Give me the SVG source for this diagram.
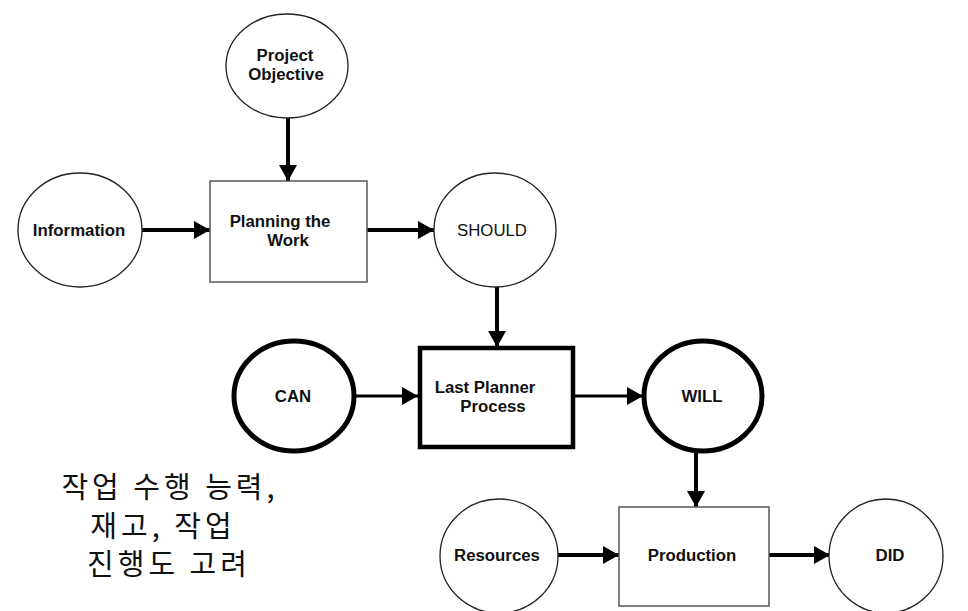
<svg xmlns="http://www.w3.org/2000/svg" width="968" height="611" viewBox="0 0 968 611">
<style>
.bg{fill:#fff}
.thin{fill:#fff;stroke:#222;stroke-width:1.3}
.thick{fill:#fff;stroke:#000;stroke-width:5}
.box{fill:#fff;stroke:#555;stroke-width:1.5}
.boxb{fill:#fff;stroke:#000;stroke-width:4.5}
.lbl{font-family:"Liberation Sans",Arial,sans-serif;font-weight:bold;font-size:16.8px;fill:#111;text-anchor:middle}
.lbln{font-family:"Liberation Sans",Arial,sans-serif;font-size:16.8px;fill:#111;text-anchor:middle}
.kr{font-family:"Noto Sans CJK KR","Noto Sans",sans-serif;font-size:29px;letter-spacing:4px;fill:#111;text-anchor:middle}
.con{stroke:#000;stroke-width:4;fill:none;marker-end:url(#ah)}
.con3{stroke:#000;stroke-width:3;fill:none;marker-end:url(#ah)}
</style>
<defs>
<marker id="ah" markerUnits="userSpaceOnUse" markerWidth="16" markerHeight="18" refX="16" refY="9" orient="auto">
<path d="M0,0 L16,9 L0,18 z" fill="#000"/>
</marker>
</defs>
<rect class="bg" x="0" y="0" width="968" height="611"/>
<g id="connectors">
<line class="con" x1="288" y1="118" x2="288" y2="181"/>
<line class="con" x1="142" y1="230" x2="210" y2="230"/>
<line class="con" x1="367" y1="230" x2="434" y2="230"/>
<line class="con" x1="497" y1="287" x2="497" y2="347"/>
<line class="con3" x1="355" y1="396" x2="418" y2="396"/>
<line class="con3" x1="573" y1="396" x2="643" y2="396"/>
<line class="con" x1="696" y1="452" x2="696" y2="507"/>
<line class="con" x1="558" y1="555" x2="619" y2="555"/>
<line class="con" x1="769" y1="555" x2="830" y2="555"/>
</g>
<g id="project-objective">
<ellipse class="thin" cx="287" cy="66" rx="61" ry="52"/>
<text class="lbl" x="285" y="61">Project</text>
<text class="lbl" x="286" y="80">Objective</text>
</g>
<g id="information">
<ellipse class="thin" cx="80" cy="230" rx="62" ry="57"/>
<text class="lbl" x="79" y="236">Information</text>
</g>
<g id="planning">
<rect class="box" x="210" y="181" width="157" height="101"/>
<text class="lbl" x="280" y="227">Planning the</text>
<text class="lbl" x="288" y="246">Work</text>
</g>
<g id="should">
<ellipse class="thin" cx="495" cy="230" rx="61" ry="57"/>
<text class="lbln" x="492" y="236">SHOULD</text>
</g>
<g id="can">
<ellipse class="thick" cx="294" cy="396" rx="60" ry="55"/>
<text class="lbl" x="293" y="402">CAN</text>
</g>
<g id="last-planner">
<rect class="boxb" x="420" y="348" width="153" height="99"/>
<text class="lbl" x="485" y="393">Last Planner</text>
<text class="lbl" x="493" y="412">Process</text>
</g>
<g id="will">
<ellipse class="thick" cx="703" cy="396" rx="59" ry="55"/>
<text class="lbl" x="702" y="402">WILL</text>
</g>
<g id="resources">
<ellipse class="thin" cx="499" cy="556" rx="59" ry="57"/>
<text class="lbl" x="497" y="561">Resources</text>
</g>
<g id="production">
<rect class="box" x="619" y="507" width="150" height="99"/>
<text class="lbl" x="692" y="561">Production</text>
</g>
<g id="did">
<ellipse class="thin" cx="886" cy="556" rx="57" ry="57"/>
<text class="lbl" x="890" y="561">DID</text>
</g>
<g id="note">
<text class="kr" x="170" y="498">작업 수행 능력,</text>
<text class="kr" x="163" y="537">재고, 작업</text>
<text class="kr" x="169" y="575">진행도 고려</text>
</g>
</svg>
